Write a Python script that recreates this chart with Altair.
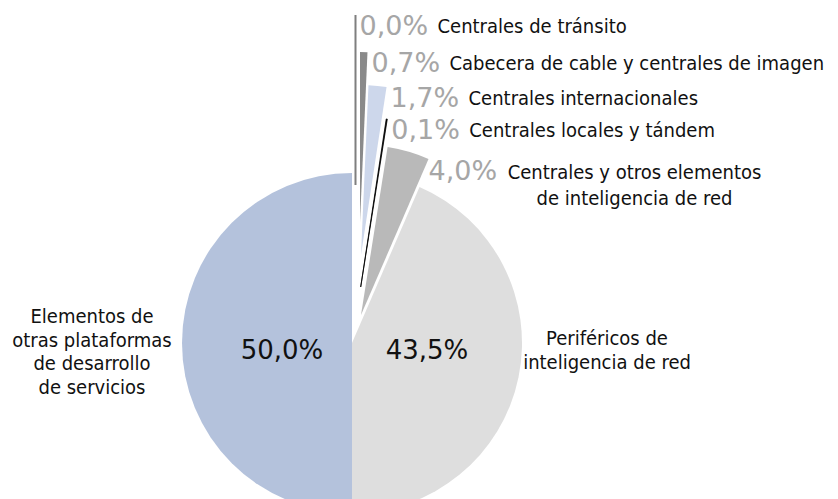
import math
import altair as alt
import pandas as pd

# ---------------- data ----------------
CATEGORIES = [
    "Centrales de tránsito",
    "Cabecera de cable y centrales de imagen",
    "Centrales internacionales",
    "Centrales locales y tándem",
    "Centrales y otros elementos de inteligencia de red",
    "Periféricos de inteligencia de red",
    "Elementos de otras plataformas de desarrollo de servicios",
]
VALUES = [0.0, 0.7, 1.7, 0.1, 4.0, 43.5, 50.0]

# ---------------- style / layout ----------------
COLORS = ["#7f7f7f", "#8a8a8a", "#cdd7eb", "#000000", "#b9b9b9", "#dedede", "#b4c2dc"]
STROKES = ["#7f7f7f", "transparent", "transparent", "#000000", "transparent", "transparent", "transparent"]
STROKE_W = [2.0, 0, 0, 0.8, 0, 0, 0]
# explosion of each slice (dx right, dy up), pixels
EXPLODE_DX = [3.5, 8, 9, 8.7, 9, 0, 0]
EXPLODE_DY = [158, 121, 88, 56, 28, 0, 0]
LABEL_LINES = [
    ["Centrales de tránsito"],
    ["Cabecera de cable y centrales de imagen"],
    ["Centrales internacionales"],
    ["Centrales locales y tándem"],
    ["Centrales y otros elementos", "de inteligencia de red"],
    ["Periféricos de", "inteligencia de red"],
    ["Elementos de", "otras plataformas", "de desarrollo", "de servicios"],
]

W, H = 822, 500
CX, CY = 344, 335          # pie centre in view pixels
R = 170
FONT = "DejaVu Sans Condensed, DejaVu Sans"
PCT_FONT = "DejaVu Sans"
FS = 20

# ---------------- build table ----------------
rows = []
acc = 0.0
for i, (cat, v) in enumerate(zip(CATEGORIES, VALUES)):
    t0, t1 = acc, acc + v
    acc = t1
    a1 = t1 / 100 * 2 * math.pi
    ax, ay = EXPLODE_DX[i], EXPLODE_DY[i]
    # outer end point of the (exploded) slice, in offset coords (y up)
    ox = ax + R * math.sin(a1)
    oy = ay + R * math.cos(a1)
    rows.append(dict(
        cat=cat, value=v, t0=t0, t1=t1, ax=ax, ay=ay,
        color=COLORS[i], stroke=STROKES[i], sw=STROKE_W[i],
        pct=f"{v:.1f}%".replace(".", ","),
        ox=ox, oy=oy, lines=LABEL_LINES[i], idx=i,
    ))
df = pd.DataFrame(rows)

xs = alt.Scale(domain=[-CX, W - CX], range=[0, W], nice=False, zero=False)
ys = alt.Scale(domain=[-(H - CY), CY], nice=False, zero=False)

base = alt.Chart(df)

arcs = base.mark_arc(radius=R).encode(
    theta=alt.Theta("t0:Q", scale=alt.Scale(domain=[0, 100], range=[0, 2 * math.pi])),
    theta2="t1:Q",
    x=alt.X("ax:Q", scale=xs, axis=None),
    y=alt.Y("ay:Q", scale=ys, axis=None),
    fill=alt.Fill("color:N", scale=None),
    stroke=alt.Stroke("stroke:N", scale=None),
    strokeWidth=alt.StrokeWidth("sw:Q", scale=None),
    tooltip=["cat:N", "value:Q"],
)

small = base.transform_filter("datum.idx < 5").transform_calculate(
    lx="datum.ox + 4 - (datum.idx == 4 ? 4 : 0)", ly="datum.oy - 12 - (datum.idx == 4 ? 1 : 0)"
)

pct_small = small.mark_text(
    align="left", baseline="middle", font=PCT_FONT, fontSize=27, color="#a6a6a6"
).encode(
    x=alt.X("lx:Q", scale=xs, axis=None),
    y=alt.Y("ly:Q", scale=ys, axis=None),
    text="pct:N",
)

cat_single = small.transform_filter("datum.idx < 4").transform_calculate(
    cx="datum.lx + 78"
).mark_text(
    align="left", baseline="middle", font=FONT, fontSize=FS, color="#111111"
).encode(
    x=alt.X("cx:Q", scale=xs, axis=None),
    y=alt.Y("ly:Q", scale=ys, axis=None),
    text="lines:N",
)

cat_multi = small.transform_filter("datum.idx == 4").transform_calculate(
    cx="datum.lx + 206", cy="datum.ly - 1"
).mark_text(
    align="center", baseline="middle", font=FONT, fontSize=FS, color="#111111",
    lineHeight=26,
).encode(
    x=alt.X("cx:Q", scale=xs, axis=None),
    y=alt.Y("cy:Q", scale=ys, axis=None),
    text="lines:N",
)

# inside labels of the two big slices, and their outside category labels
big = base.transform_filter("datum.idx >= 5").transform_calculate(
    ix="datum.idx == 5 ? 75 : -70", iy="-8",
    qx="datum.idx == 5 ? 255 : -260", qy="datum.idx == 5 ? 4 : 26",
)
pct_big = big.mark_text(
    align="center", baseline="middle", font=PCT_FONT, fontSize=26, color="#111111"
).encode(
    x=alt.X("ix:Q", scale=xs, axis=None),
    y=alt.Y("iy:Q", scale=ys, axis=None),
    text="pct:N",
)
cat_big = big.mark_text(
    align="center", baseline="middle", font=FONT, fontSize=FS, color="#111111",
    lineHeight=23.5,
).encode(
    x=alt.X("qx:Q", scale=xs, axis=None),
    y=alt.Y("qy:Q", scale=ys, axis=None),
    text="lines:N",
)

chart = alt.layer(arcs, pct_small, cat_single, cat_multi, pct_big, cat_big).properties(
    width=W, height=H, padding=0, autosize=alt.AutoSizeParams(type="none")
).configure_view(stroke=None)

chart.save("out.html", embed_options={"renderer": "svg", "actions": False})
